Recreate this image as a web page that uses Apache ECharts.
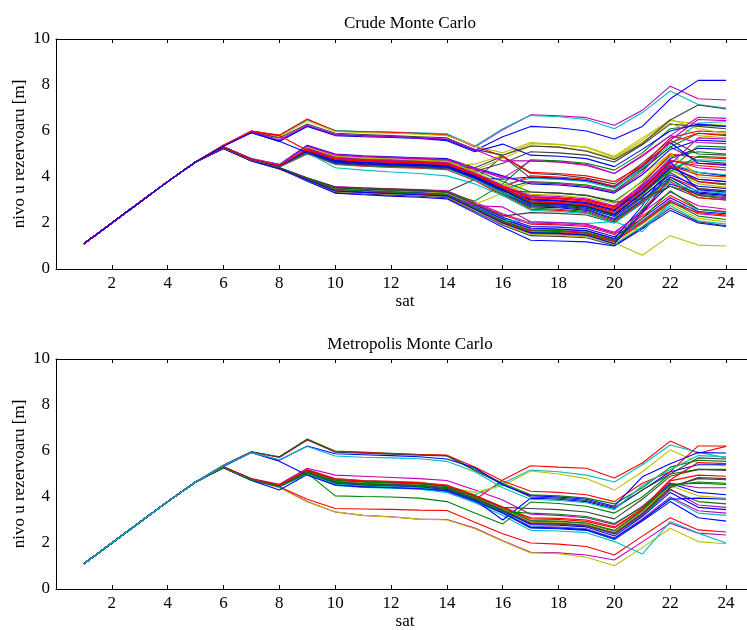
<!DOCTYPE html>
<html>
<head>
<meta charset="utf-8">
<script src="https://cdn.jsdelivr.net/npm/echarts@6/dist/echarts.min.js"></script>
<style>
html, body { margin: 0; padding: 0; background: #fff; }
#chart { width: 747px; height: 630px; }
</style>
</head>
<body>
<div id="chart"></div>
<script>
// Hours of the day (x axis) and the tick marks shown on it
const hours = [1,2,3,4,5,6,7,8,9,10,11,12,13,14,15,16,17,18,19,20,21,22,23,24];
const xTicks = [2,4,6,8,10,12,14,16,18,20,22,24];
const yTicks = [0,2,4,6,8,10];

// Common filling of the reservoir during hours 1-5 (all simulated runs share it)
const rampLevels = [1.10, 2.00, 2.90, 3.80, 4.65];

// ---- Crude Monte Carlo: reservoir level for hours 6..24 of each run ----
const crudeUpper = [
  [5.38,6.00,5.80,6.50,6.00,5.96,5.93,5.89,5.86,5.30,6.05,6.70,6.66,6.58,6.25,6.90,7.95,7.40,7.35],
  [5.38,5.98,5.78,6.48,6.03,5.98,5.95,5.92,5.88,5.35,6.10,6.68,6.62,6.50,6.10,6.80,7.74,7.15,7.00],
  [5.37,5.95,5.55,6.22,5.85,5.80,5.76,5.71,5.62,5.15,5.75,6.20,6.14,6.00,5.65,6.20,7.40,8.20,8.20],
  [5.38,6.00,5.82,6.52,6.00,5.97,5.94,5.90,5.82,5.35,4.90,4.20,4.15,4.05,3.80,4.50,5.50,5.90,5.80],
  [5.36,5.97,5.75,6.45,5.98,5.93,5.90,5.86,5.80,5.35,5.05,5.50,5.42,5.28,4.85,5.60,6.50,6.10,5.90],
  [5.36,5.95,5.70,6.30,5.90,5.85,5.80,5.75,5.70,5.20,4.95,5.35,5.30,5.12,4.75,5.45,6.48,7.13,6.96],
  [5.35,5.93,5.55,6.20,5.80,5.75,5.72,5.68,5.58,5.10,5.43,4.95,4.90,4.80,4.45,5.20,6.00,6.30,6.20],
  [5.36,5.95,5.62,6.25,5.85,5.78,5.75,5.70,5.65,5.20,4.70,4.70,4.65,4.50,4.15,4.90,5.80,6.60,6.55],
  [5.37,5.98,5.80,5.15,4.80,4.72,4.68,4.64,4.58,4.12,3.58,3.12,3.08,3.00,2.70,3.50,4.70,4.50,4.40],
  [5.34,5.92,5.55,5.05,4.65,4.58,4.54,4.50,4.44,3.98,3.44,2.86,2.82,2.72,2.36,3.30,4.40,3.90,3.80]
];
const crudeUpperColors = "mcbrykbmrb";

const crudeMiddle = [
  [5.30,4.80,4.55,5.38,5.00,4.92,4.88,4.84,4.80,4.40,4.05,3.70,3.65,3.55,3.30,4.10,5.20,5.60,5.55],
  [5.32,4.78,4.52,5.30,4.90,4.82,4.78,4.74,4.70,4.30,3.80,3.35,3.30,3.20,2.95,3.80,4.90,5.10,5.00],
  [5.28,4.75,4.48,5.25,4.85,4.77,4.72,4.68,4.62,4.20,3.60,3.05,3.00,2.90,2.60,3.50,4.70,4.60,4.50],
  [5.30,4.77,4.50,5.22,4.80,4.72,4.68,4.63,4.58,4.15,3.55,2.95,2.90,2.82,2.45,3.40,4.60,4.20,4.10],
  [5.29,4.76,4.47,5.18,4.75,4.68,4.63,4.58,4.52,4.10,3.45,2.85,2.80,2.70,2.35,3.30,4.45,3.90,3.80],
  [5.31,4.79,4.52,5.15,4.72,4.64,4.60,4.55,4.50,4.05,3.40,2.80,2.75,2.65,2.30,3.20,4.30,3.70,3.55],
  [5.27,4.74,4.46,5.12,4.68,4.60,4.56,4.51,4.45,4.00,3.35,2.75,2.70,2.60,2.20,3.10,4.20,3.50,3.40],
  [5.30,4.76,4.49,5.10,4.65,4.57,4.52,4.48,4.42,3.95,3.30,2.70,2.66,2.55,2.15,3.00,4.00,3.35,3.25],
  [5.28,4.75,4.45,5.05,4.60,4.52,4.47,4.43,4.38,3.90,3.25,2.65,2.60,2.50,2.10,2.95,3.90,3.20,3.10],
  [5.29,4.74,4.44,5.00,4.55,4.47,4.42,4.38,4.32,3.85,3.20,2.60,2.55,2.45,2.05,2.90,3.80,3.10,3.00],
  [5.30,4.78,4.51,5.28,4.88,4.80,4.76,4.71,4.66,4.25,4.60,5.10,5.05,4.95,4.65,5.40,6.30,6.20,6.10],
  [5.31,4.77,4.50,5.20,4.78,4.70,4.66,4.61,4.56,4.55,4.95,5.45,5.40,5.30,4.90,5.70,6.45,6.30,6.25],
  [5.29,4.76,4.48,5.17,4.74,4.66,4.61,4.57,4.51,4.30,4.80,5.35,5.30,5.15,4.80,5.50,6.35,5.80,5.70],
  [5.30,4.77,4.50,5.24,4.82,4.74,4.70,4.65,4.60,4.10,3.65,3.95,3.90,3.80,3.50,4.40,5.40,6.35,6.40],
  [5.28,4.75,4.47,5.14,4.70,4.62,4.58,4.53,4.48,4.02,3.50,3.80,3.75,3.65,3.40,4.30,5.30,5.90,5.85],
  [5.30,4.78,4.52,5.33,4.95,4.87,4.83,4.78,4.74,4.35,3.95,4.70,4.65,4.55,4.15,4.95,5.80,5.50,5.45],
  [5.29,4.76,4.49,5.08,4.62,4.54,4.50,4.45,4.40,3.93,3.40,3.00,2.95,2.85,2.55,3.60,4.80,5.25,5.20],
  [5.31,4.78,4.51,5.21,4.79,4.71,4.67,4.62,4.57,4.12,3.58,3.10,3.05,2.95,2.65,3.70,5.00,4.85,4.80],
  [5.28,4.74,4.46,5.02,4.57,4.49,4.44,4.40,4.35,3.88,3.30,2.90,2.85,2.75,2.40,3.35,4.40,4.75,4.70],
  [5.30,4.77,4.50,5.26,4.84,4.76,4.72,4.67,4.62,4.18,3.62,3.20,3.15,3.05,2.75,3.65,4.75,4.40,4.30],
  [5.29,4.75,4.47,5.16,4.72,4.64,4.59,4.55,4.49,4.05,3.50,2.88,2.84,2.74,2.38,3.25,4.35,5.35,5.30],
  [5.30,4.76,4.49,5.12,4.66,4.58,4.54,4.49,4.44,3.98,3.90,4.00,3.95,3.85,3.60,4.45,5.50,4.60,4.55],
  [5.28,4.74,4.45,5.04,4.58,4.50,4.46,4.41,4.36,4.40,4.90,4.15,4.10,3.95,3.70,4.60,5.60,5.00,4.95],
  [5.30,4.77,4.50,5.19,4.77,4.69,4.65,4.60,4.55,4.08,3.55,4.05,4.00,3.90,3.60,4.50,5.70,6.00,5.95],
  [5.31,4.78,4.52,5.29,4.90,4.82,4.78,4.73,4.68,4.22,3.70,3.25,3.20,3.10,2.85,3.85,5.05,4.00,3.90],
  [5.29,4.75,4.48,5.13,4.69,4.61,4.57,4.52,4.47,4.00,3.45,2.78,2.74,2.64,2.28,3.15,4.10,3.60,3.50],
  [5.28,4.74,4.46,5.06,4.40,4.30,4.22,4.15,4.05,3.70,3.20,2.55,2.50,2.42,2.00,2.85,3.75,3.40,3.30],
  [5.30,4.76,4.49,5.23,4.81,4.73,4.69,4.64,4.59,4.14,3.60,3.15,3.10,3.00,2.70,3.55,4.55,5.70,5.65],
  [5.29,4.76,4.48,5.11,4.67,4.59,4.55,4.50,4.45,3.97,3.42,2.82,2.78,2.68,2.33,3.30,4.25,4.90,4.85],
  [5.30,4.77,4.50,5.18,4.76,4.68,4.64,4.59,4.54,4.10,3.55,2.95,2.90,2.80,2.50,3.45,4.50,3.80,3.70],
  [5.28,4.75,4.47,5.09,4.64,4.56,4.52,4.47,4.42,3.96,3.40,3.35,3.30,3.20,2.90,3.05,3.60,3.25,3.15],
  [5.31,4.78,4.51,5.35,4.98,4.90,4.86,4.81,4.76,4.38,4.00,3.75,3.70,3.60,3.35,4.20,5.60,6.50,6.45],
  [5.29,4.76,4.48,5.15,4.71,4.63,4.59,4.54,4.49,4.04,3.48,3.02,2.97,2.88,2.55,3.45,4.65,3.45,3.35],
  [5.30,4.76,4.50,5.20,4.78,4.70,4.66,4.61,4.56,4.10,3.52,2.92,2.88,2.78,2.42,3.35,4.48,4.10,4.00]
];
const crudeMiddleColors = "bgrcmykbgrkyycgmbrcmgbkrybcmgrkmbr";

const crudeLower = [
  [5.26,4.73,4.40,3.95,3.55,3.50,3.46,3.42,3.38,2.85,2.35,1.95,1.92,1.85,1.50,2.30,3.20,2.60,2.50],
  [5.25,4.72,4.38,3.93,3.50,3.45,3.41,3.37,3.32,2.78,2.25,1.85,1.82,1.75,1.40,2.20,3.10,2.50,2.40],
  [5.24,4.70,4.36,3.90,3.45,3.39,3.35,3.30,3.25,2.70,2.15,1.75,1.72,1.65,1.30,2.10,3.00,2.40,2.30],
  [5.25,4.71,4.37,3.91,3.42,3.36,3.32,3.27,3.22,2.65,2.08,1.68,1.65,1.58,1.22,2.05,2.95,2.30,2.15],
  [5.26,4.72,4.39,3.89,3.40,3.34,3.29,3.24,3.19,2.62,2.02,1.60,1.57,1.50,1.15,1.95,2.85,2.20,2.05],
  [5.24,4.70,4.35,3.86,3.36,3.30,3.25,3.20,3.14,2.56,1.96,1.52,1.49,1.42,1.08,1.85,2.75,2.10,1.95],
  [5.25,4.71,4.36,3.84,3.32,3.26,3.21,3.16,3.10,2.50,1.90,1.45,1.42,1.36,1.02,1.80,2.65,2.05,1.88],
  [5.25,4.72,4.37,3.82,3.30,3.23,3.17,3.12,3.05,2.44,1.82,1.25,1.22,1.18,1.00,1.75,2.55,2.00,1.85],
  [5.26,4.73,4.40,3.96,3.58,3.53,3.49,3.45,3.40,2.90,2.40,2.00,1.97,1.90,1.55,2.55,3.90,3.20,3.05],
  [5.24,4.70,4.35,3.88,3.38,3.32,3.27,3.22,3.16,2.58,1.98,1.55,1.52,1.46,1.12,2.40,4.00,3.50,3.40],
  [5.25,4.71,4.37,3.90,3.43,3.37,3.32,3.27,3.21,2.64,2.05,1.62,1.59,1.52,1.18,2.60,4.30,3.80,3.65],
  [5.25,4.72,4.38,3.92,3.47,3.41,3.36,3.31,3.26,2.72,2.18,1.78,1.74,1.67,1.32,2.75,4.50,4.20,4.05],
  [5.24,4.70,4.35,3.87,3.37,3.31,3.26,3.21,3.15,2.57,1.97,1.50,1.47,1.40,1.14,0.60,1.45,1.04,1.00],
  [5.25,4.71,4.37,3.91,3.44,3.38,3.33,3.28,3.23,2.68,2.12,2.05,2.02,1.98,2.06,1.62,2.90,2.60,2.45],
  [5.26,4.73,4.41,3.97,3.56,3.52,3.48,3.44,3.36,3.90,4.90,3.95,3.92,3.85,3.55,4.35,5.30,4.70,4.60],
  [5.25,4.72,4.39,3.94,3.50,3.46,3.42,3.38,3.30,2.80,3.30,3.75,3.72,3.65,3.35,4.10,5.00,4.10,4.00],
  [5.25,4.72,4.38,3.93,3.52,3.47,3.43,3.39,3.34,2.95,3.70,4.75,4.70,4.60,4.30,5.05,6.10,6.25,6.20],
  [5.24,4.70,4.36,3.89,3.40,3.34,3.30,3.25,3.20,2.75,2.70,2.05,2.02,1.95,1.60,2.45,3.35,2.75,2.60],
  [5.26,4.73,4.40,3.95,3.53,3.48,3.44,3.40,3.35,2.82,2.30,2.45,2.42,2.35,2.00,2.90,3.60,3.10,3.00],
  [5.25,4.71,4.37,3.91,3.41,3.35,3.30,3.26,3.20,2.63,2.04,1.66,1.63,1.56,1.20,2.00,2.90,2.45,2.35],
  [5.25,4.72,4.38,3.92,3.46,3.40,3.35,3.30,3.24,2.66,2.10,1.70,1.67,1.60,1.26,2.20,3.40,2.60,2.48],
  [5.24,4.71,4.36,3.88,3.39,3.33,3.28,3.23,3.17,2.60,2.00,1.58,1.55,1.48,1.10,2.50,3.70,3.30,3.20]
];
const crudeLowerColors = "rbmgyckbmrgbyckygmkrgb";

// ---- Metropolis Monte Carlo: reservoir level for hours 6..24 of each run ----
const metroUpper = [
  [5.38,5.97,5.75,6.52,6.00,5.95,5.90,5.85,5.80,5.20,4.60,4.10,4.05,3.95,3.70,4.40,5.30,5.60,5.55],
  [5.38,5.97,5.72,6.48,5.98,5.93,5.89,5.85,5.82,5.30,4.70,4.25,4.20,4.10,3.80,4.60,5.10,6.22,6.22],
  [5.37,5.96,5.74,6.50,5.95,5.90,5.86,5.82,5.78,5.15,4.55,4.00,3.95,3.85,3.55,4.30,5.00,5.70,5.65],
  [5.36,5.94,5.60,6.22,5.88,5.84,5.80,5.75,5.65,5.27,4.52,4.06,4.00,3.90,3.60,4.88,5.45,5.93,5.91],
  [5.36,5.93,5.62,6.20,5.78,5.73,5.70,5.66,5.55,5.10,4.40,3.90,3.85,3.75,3.45,4.50,5.20,5.80,5.75]
];
const metroUpperColors = "grkbc";

const metroMiddle = [
  [5.32,4.80,4.55,5.25,4.95,4.90,4.85,4.80,4.72,4.30,3.87,3.25,3.20,3.10,2.80,3.60,4.60,4.40,4.40],
  [5.30,4.78,4.52,5.20,4.80,4.72,4.68,4.64,4.50,3.87,4.74,5.36,5.30,5.25,4.83,5.48,6.43,5.90,6.20],
  [5.30,4.77,4.50,5.18,4.78,4.70,4.66,4.62,4.48,4.10,4.60,5.17,5.10,4.95,4.65,5.40,6.26,5.95,5.70],
  [5.29,4.76,4.48,5.15,4.74,4.66,4.62,4.58,4.44,4.20,4.50,5.13,5.00,4.80,4.30,5.10,6.05,5.50,5.35],
  [5.30,4.77,4.50,5.12,4.72,4.64,4.60,4.56,4.46,4.00,3.50,2.95,2.92,2.84,2.50,3.40,4.60,4.20,4.10],
  [5.29,4.76,4.48,5.08,4.68,4.60,4.56,4.52,4.42,3.96,3.45,2.90,2.87,2.79,2.45,3.30,4.45,4.80,4.75],
  [5.28,4.75,4.47,5.05,4.65,4.57,4.53,4.49,4.38,3.92,3.40,2.85,2.82,2.74,2.38,3.20,4.30,3.80,3.70],
  [5.30,4.77,4.49,5.10,4.62,4.54,4.50,4.46,4.36,3.90,3.38,2.80,2.77,2.70,2.30,3.15,4.20,3.55,3.45],
  [5.27,4.74,4.46,5.00,4.58,4.50,4.46,4.42,4.30,3.85,3.32,2.72,2.69,2.62,2.22,3.05,4.00,3.40,3.30],
  [5.26,4.72,4.30,4.98,4.55,4.47,4.43,4.39,4.25,3.80,3.30,2.65,2.62,2.55,2.15,2.95,3.80,3.10,2.95],
  [5.29,4.76,4.48,5.04,4.05,4.02,4.00,3.95,3.80,3.30,2.83,3.78,3.72,3.60,3.30,4.00,5.00,5.20,5.20],
  [5.30,4.77,4.50,5.14,4.75,4.67,4.63,4.59,4.47,4.05,3.55,3.50,3.45,3.35,3.05,3.90,4.90,5.20,5.15],
  [5.28,4.74,4.45,5.02,4.60,4.52,4.48,4.44,4.33,3.88,3.00,3.95,3.90,3.80,3.50,4.30,5.10,5.40,5.40],
  [5.29,4.76,4.48,5.06,4.66,4.58,4.54,4.50,4.40,3.95,3.42,2.88,2.85,2.77,2.40,3.25,4.35,3.65,3.55],
  [5.30,4.77,4.50,5.16,4.76,4.68,4.64,4.60,4.49,4.05,3.52,3.05,3.02,2.94,2.65,3.45,4.70,4.95,4.90],
  [5.28,4.75,4.46,5.00,4.56,4.48,4.44,4.40,4.28,3.83,3.28,2.70,2.67,2.60,2.18,3.00,3.95,3.30,3.20],
  [5.29,4.76,4.48,5.10,4.70,4.62,4.58,4.54,4.43,3.98,3.48,2.92,2.90,2.82,2.48,3.35,4.50,4.05,3.95],
  [5.30,4.77,4.49,5.12,4.73,4.65,4.61,4.57,4.46,4.02,3.53,2.98,2.95,2.87,2.55,3.42,4.55,4.60,4.55],
  [5.29,4.76,4.47,5.07,4.67,4.59,4.55,4.51,4.41,3.96,3.44,2.86,2.83,2.75,2.42,3.28,4.40,4.85,4.80],
  [5.33,5.93,5.55,4.95,4.52,4.44,4.40,4.36,4.28,3.84,3.30,2.68,2.65,2.58,2.20,3.00,3.90,3.95,3.90],
  [5.31,4.78,4.51,5.18,4.78,4.70,4.66,4.62,4.52,4.08,3.56,3.10,3.07,3.00,2.70,3.50,4.75,5.50,5.45],
  [5.28,4.75,4.46,5.03,4.63,4.55,4.51,4.47,4.36,3.90,3.36,3.30,3.25,3.15,2.85,3.55,4.50,4.65,4.60]
];
const metroMiddleColors = "mrcybkgbmbgkbmrcygkbrg";

const metroLower = [
  [5.30,4.76,4.45,3.90,3.50,3.48,3.46,3.43,3.41,2.90,2.40,2.00,1.95,1.85,1.48,2.30,3.10,2.57,2.48],
  [5.29,4.74,4.42,3.80,3.35,3.20,3.14,3.04,3.02,2.65,2.10,1.60,1.57,1.48,1.26,2.05,2.86,2.43,2.35],
  [5.28,4.73,4.40,3.78,3.36,3.20,3.13,3.04,3.00,2.62,2.08,1.57,1.54,1.38,1.01,1.80,2.64,2.06,1.97],
  [5.30,4.76,4.48,5.00,4.50,4.42,4.38,4.34,4.20,3.75,3.20,2.55,2.52,2.45,2.06,1.52,2.93,2.43,2.00]
];
const metroLowerColors = "rmyc";

// MATLAB-style default line colours
const palette = {
  b: '#0000ff', g: '#008000', r: '#ff0000', c: '#00bfbf',
  m: '#bf00bf', y: '#bfbf00', k: '#404040'
};

const FONT = 'Liberation Serif';

function buildSeries(groups, gridIdx) {
  const out = [];
  groups.forEach(([rows, colors]) => {
    rows.forEach((tail, i) => {
      const levels = rampLevels.concat(tail);
      out.push({
        type: 'line',
        xAxisIndex: gridIdx * 2,
        yAxisIndex: gridIdx,
        data: hours.map((h, k) => [h, levels[k]]),
        showSymbol: false,
        symbol: 'none',
        silent: true,
        lineStyle: { color: palette[colors[i % colors.length]], width: 1.1 },
        z: 2
      });
    });
  });
  return out;
}

const series = [].concat(
  buildSeries([[crudeLower, crudeLowerColors], [crudeMiddle, crudeMiddleColors], [crudeUpper, crudeUpperColors]], 0),
  buildSeries([[metroLower, metroLowerColors], [metroMiddle, metroMiddleColors], [metroUpper, metroUpperColors]], 1)
);

const grids = [
  { left: 56, top: 39, width: 698, height: 230, outerBoundsMode: 'none', containLabel: false },
  { left: 56, top: 359, width: 698, height: 230, outerBoundsMode: 'none', containLabel: false }
];

function bottomAxis(g) {
  return {
    type: 'value', gridIndex: g, position: 'bottom', min: 0, max: 25,
    axisLine: { show: true, onZero: false, lineStyle: { color: '#000', width: 1 } },
    axisTick: { show: true, inside: true, length: 4, customValues: xTicks, lineStyle: { color: '#000' } },
    axisLabel: { show: true, customValues: xTicks, margin: 6, color: '#000', fontFamily: FONT, fontSize: 17 },
    splitLine: { show: false },
    name: 'sat', nameLocation: 'middle', nameGap: 21,
    nameTextStyle: { color: '#000', fontFamily: FONT, fontSize: 17 }
  };
}
function topAxis(g) {
  return {
    type: 'value', gridIndex: g, position: 'top', min: 0, max: 25,
    axisLine: { show: true, onZero: false, lineStyle: { color: '#000', width: 1 } },
    axisTick: { show: true, inside: true, length: 4, customValues: xTicks, lineStyle: { color: '#000' } },
    axisLabel: { show: false },
    splitLine: { show: false }
  };
}
function leftAxis(g) {
  return {
    type: 'value', gridIndex: g, min: 0, max: 10, interval: 2,
    axisLine: { show: true, onZero: false, lineStyle: { color: '#000', width: 1 } },
    axisTick: { show: false },
    axisLabel: { customValues: yTicks, margin: 6, color: '#000', fontFamily: FONT, fontSize: 17 },
    splitLine: { show: false },
    name: 'nivo u rezervoaru [m]', nameLocation: 'middle', nameGap: 28, nameRotate: 90,
    nameMoveOverlap: false,
    nameTextStyle: { color: '#000', fontFamily: FONT, fontSize: 17 }
  };
}

const chart = echarts.init(document.getElementById('chart'), null, { renderer: 'canvas' });
chart.setOption({
  animation: false,
  backgroundColor: '#fff',
  title: [
    { text: 'Crude Monte Carlo', left: 405, top: 10, textAlign: 'center',
      textStyle: { fontFamily: FONT, fontSize: 17, fontWeight: 'normal', color: '#000' } },
    { text: 'Metropolis Monte Carlo', left: 405, top: 331, textAlign: 'center',
      textStyle: { fontFamily: FONT, fontSize: 17, fontWeight: 'normal', color: '#000' } }
  ],
  grid: grids,
  xAxis: [bottomAxis(0), topAxis(0), bottomAxis(1), topAxis(1)],
  yAxis: [leftAxis(0), leftAxis(1)],
  series: series
});
</script>
</body>
</html>
